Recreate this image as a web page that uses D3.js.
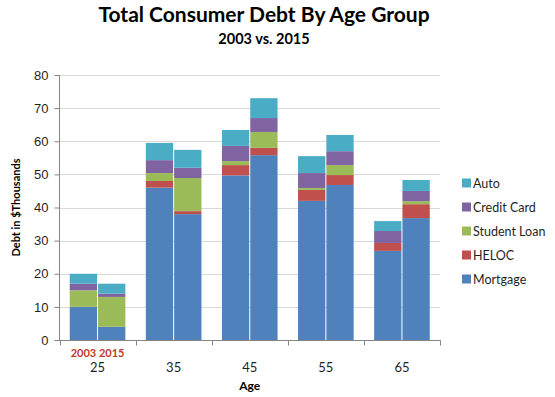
<!DOCTYPE html>
<html>
<head>
<meta charset="utf-8">
<script src="https://cdn.jsdelivr.net/npm/d3@7"></script>
<style>
  body { margin: 0; background: #fff; }
  svg { display: block; font-family: Lato, "Open Sans", sans-serif; }
</style>
</head>
<body>
<svg id="chart"></svg>
<script>
// data -------------------------------------------------------------
let ageGroups = ["25", "35", "45", "55", "65"];
let years = ["2003", "2015"];
let seriesNames = ["Mortgage", "HELOC", "Student Loan", "Credit Card", "Auto"];

let mortgage2003 = [10, 46, 49.7, 42, 26.9];
let heloc2003 = [0, 2, 3.1, 3.3, 2.4];
let student2003 = [5, 2.4, 1.2, 0.6, 0];
let credit2003 = [2, 3.9, 4.6, 4.5, 3.6];
let auto2003 = [3, 5.2, 4.8, 5.1, 3];

let mortgage2015 = [4, 38, 55.8, 46.8, 36.8];
let heloc2015 = [0, 0.9, 2.2, 3, 4.2];
let student2015 = [9, 10, 4.8, 3, 0.9];
let credit2015 = [1, 3.1, 4.2, 4.2, 3.1];
let auto2015 = [3, 5.4, 6, 4.9, 3.3];

let yTicks = [0, 10, 20, 30, 40, 50, 60, 70, 80];

let colors = {
    "Mortgage": "#4F81BD",
    "HELOC": "#C0504D",
    "Student Loan": "#9BBB59",
    "Credit Card": "#8064A2",
    "Auto": "#4BACC6"
};

//svg spec ------------------------------------------------------------
let width = 555;
let height = 397;
let plot = {left: 59.5, right: 440, top: 75, bottom: 340};

let svg = d3.select("#chart").attr("width", width).attr("height", height);

// build rows per group/year
let seriesByYear = {
    "2003": [mortgage2003, heloc2003, student2003, credit2003, auto2003],
    "2015": [mortgage2015, heloc2015, student2015, credit2015, auto2015]
};

let rows = [];
ageGroups.forEach((age, i) => {
    years.forEach(yr => {
        let row = {age: age, year: yr};
        seriesNames.forEach((s, k) => row[s] = seriesByYear[yr][k][i]);
        rows.push(row);
    });
});

let stacked = d3.stack().keys(seriesNames)(rows);

// scales
let x0 = d3.scaleBand().domain(ageGroups).range([plot.left, plot.right]);
let x1 = d3.scaleBand().domain(years)
    .range([x0.bandwidth() * 0.128, x0.bandwidth() * 0.872]);
let y = d3.scaleLinear().domain([0, 80]).range([plot.bottom, plot.top]);

// gridlines
svg.append("g")
    .selectAll("line")
    .data(yTicks.slice(1))
    .join("line")
    .attr("x1", plot.left)
    .attr("x2", plot.right)
    .attr("y1", d => Math.round(y(d)) + 0.5)
    .attr("y2", d => Math.round(y(d)) + 0.5)
    .attr("stroke", "#d9d9d9")
    .attr("stroke-width", 1);

// bars
svg.append("g")
    .selectAll("g")
    .data(stacked)
    .join("g")
    .attr("fill", d => colors[d.key])
    .selectAll("rect")
    .data(d => d)
    .join("rect")
    .attr("x", d => x0(d.data.age) + x1(d.data.year) + 0.5)
    .attr("width", x1.bandwidth() - 1)
    .attr("y", d => y(d[1]))
    .attr("height", d => y(d[0]) - y(d[1]));

// y axis
let yAxis = svg.append("g")
    .attr("transform", `translate(${plot.left},0)`)
    .call(d3.axisLeft(y).tickValues(yTicks).tickSize(5).tickPadding(6));
yAxis.select(".domain").attr("stroke", "#868686").attr("d", `M0,${plot.top}V${plot.bottom}`);
yAxis.selectAll(".tick line").attr("stroke", "#868686");
yAxis.selectAll(".tick text")
    .attr("fill", "#1f1f1f")
    .style("font-size", "13px");

// x axis
let xAxis = svg.append("g")
    .attr("transform", `translate(0,${plot.bottom + 0.5})`);
xAxis.append("line")
    .attr("x1", plot.left - 5).attr("x2", plot.right + 0.5)
    .attr("stroke", "#868686");
let xTickPos = ageGroups.map(a => x0(a)).concat([plot.right]);
xAxis.selectAll("line.tick")
    .data(xTickPos)
    .join("line")
    .attr("class", "tick")
    .attr("x1", d => Math.round(d) + 0.5)
    .attr("x2", d => Math.round(d) + 0.5)
    .attr("y1", 0).attr("y2", 5)
    .attr("stroke", "#868686");

xAxis.selectAll("text.age")
    .data(ageGroups)
    .join("text")
    .attr("class", "age")
    .attr("x", d => x0(d) + x0.bandwidth() / 2)
    .attr("y", 31)
    .attr("text-anchor", "middle")
    .attr("fill", "#1f1f1f")
    .style("font-size", "13px")
    .text(d => d);

// year labels under first group only
xAxis.selectAll("text.year")
    .data(years)
    .join("text")
    .attr("class", "year")
    .attr("x", d => x0(ageGroups[0]) + x1(d) + x1.bandwidth() / 2)
    .attr("y", 16)
    .attr("text-anchor", "middle")
    .attr("fill", "#c0392b")
    .style("font-size", "11px")
    .style("font-weight", "bold")
    .text(d => d);

// titles
svg.append("text")
    .attr("x", 264).attr("y", 22)
    .attr("text-anchor", "middle")
    .style("font-size", "21px")
    .style("font-weight", "bold")
    .text("Total Consumer Debt By Age Group");

svg.append("text")
    .attr("x", 264).attr("y", 44)
    .attr("text-anchor", "middle")
    .style("font-size", "14.5px")
    .style("font-weight", "bold")
    .text("2003 vs. 2015");

svg.append("text")
    .attr("x", (plot.left + plot.right) / 2).attr("y", 390)
    .attr("text-anchor", "middle")
    .style("font-size", "12px")
    .style("font-weight", "bold")
    .text("Age");

svg.append("text")
    .attr("transform", `translate(20,${(plot.top + plot.bottom) / 2}) rotate(-90)`)
    .attr("text-anchor", "middle")
    .style("font-size", "11px")
    .style("font-weight", "bold")
    .text("Debt in $Thousands");

// legend
let legendOrder = seriesNames.slice().reverse();
let legend = svg.append("g")
    .selectAll("g")
    .data(legendOrder)
    .join("g")
    .attr("transform", (d, i) => `translate(462,${183 + i * 24})`);
legend.append("rect")
    .attr("x", 0).attr("y", -4.5)
    .attr("width", 9).attr("height", 9)
    .attr("fill", d => colors[d]);
legend.append("text")
    .attr("x", 11).attr("y", 4.5)
    .attr("fill", "#1f1f1f")
    .style("font-size", "12.5px")
    .text(d => d);
</script>
</body>
</html>
